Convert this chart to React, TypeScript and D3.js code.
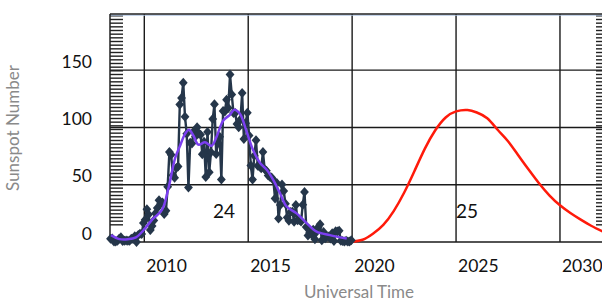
import * as d3 from "d3";

const W = 602;
const H = 301;
const PLOT = { left: 110, right: 603, top: 14, bottom: 242 };

// monthly mean sunspot number, May 2008 .. Dec 2019
const START_YEAR = 2008;
const START_MONTH = 4; // May (0-based)
const monthly: number[] = [
  2.9, 3.1, 0.5, 0.5, 1.1, 2.9, 4.1, 0.8,
  1.2, 1.3, 1.2, 1.2, 2.9, 2.6, 5.0, 0.0, 6.2, 7.1, 6.9, 16.5,
  19.5, 28.5, 24.0, 10.4, 13.9, 18.8, 25.2, 29.6, 36.4, 33.6, 34.4, 24.5,
  27.3, 48.3, 78.6, 76.1, 58.2, 56.1, 64.5, 65.8, 120.1, 125.7, 139.1, 109.3,
  94.4, 47.6, 86.6, 85.9, 96.5, 92.0, 100.1, 94.8, 93.7, 76.5, 87.6, 56.8,
  96.1, 60.9, 78.3, 107.3, 120.2, 76.7, 86.2, 91.8, 54.5, 114.4, 113.9, 124.2,
  117.0, 146.1, 128.7, 112.5, 112.5, 102.9, 100.2, 106.9, 130.0, 90.0, 103.6, 112.9,
  93.0, 66.7, 54.5, 75.3, 88.8, 66.5, 65.8, 64.4, 78.6, 63.6, 62.2, 58.0,
  57.0, 56.4, 54.1, 37.9, 51.5, 20.5, 32.4, 50.2, 44.6, 33.4, 21.4, 18.5,
  26.1, 26.4, 17.7, 32.3, 18.9, 19.2, 17.8, 32.6, 43.7, 13.2, 5.7, 8.2,
  6.8, 10.7, 2.5, 8.9, 13.1, 15.6, 1.6, 8.7, 3.3, 4.9, 4.9, 3.1,
  7.7, 0.8, 9.4, 9.1, 9.9, 1.2, 0.9, 0.5, 1.1, 0.4, 0.5, 1.5,
];

// smoothed sunspot number (purple)
const smoothYears = [
  2008.4, 2008.8, 2009.2, 2009.6, 2009.95, 2010.4, 2010.85, 2011.15, 2011.48,
  2011.72, 2011.95, 2012.15, 2012.36, 2012.6, 2012.92, 2013.24, 2013.48, 2013.8,
  2014.12, 2014.33, 2014.6, 2014.93, 2015.24, 2015.57, 2015.89, 2016.21,
  2016.53, 2016.85, 2017.33, 2017.81, 2018.29, 2018.93, 2019.74,
];
const smoothValues = [
  6, 2.5, 2.3, 4, 10, 20, 28, 46, 73,
  84, 94, 98, 93, 85, 87, 84, 92, 106,
  111, 115.5, 112, 96, 80, 69, 63, 54,
  42.5, 31, 25, 16.5, 9, 6, 3,
];

// predicted cycle 25 (red)
const predYears = [
  2019.95, 2020.5, 2021.0, 2021.5, 2022.0, 2022.5, 2023.0, 2023.5, 2024.0,
  2024.5, 2025.0, 2025.55, 2026.0, 2026.5, 2027.0, 2027.5, 2028.0, 2028.5,
  2029.0, 2029.5, 2030.0, 2030.5, 2031.0, 2031.5, 2032.05,
];
const predValues = [
  0.3, 2, 7.2, 15, 27, 43, 62, 81.5, 97.5,
  108.7, 114, 115.2, 113, 108, 98, 88, 75.5, 63,
  51, 40.5, 32, 25.3, 19.5, 14.2, 9.3,
];

const yearTicks = [2010, 2015, 2020, 2025, 2030];
const valueTicks = [0, 50, 100, 150];
const cycleLabels = [
  { label: "24", year: 2013.3 },
  { label: "25", year: 2025.0 },
];

const FONT = "Lato, 'Open Sans', sans-serif";

type Pt = { t: number; v: number };

export default function App() {
  const x = d3.scaleLinear().domain([2008.35, 2032.07]).range([PLOT.left, PLOT.right]);
  const y = d3.scaleLinear().domain([0, 199]).range([PLOT.bottom, PLOT.top]);

  const obs: Pt[] = monthly.map((v, i) => ({
    t: START_YEAR + (START_MONTH + i + 0.5) / 12,
    v,
  }));
  const smooth: Pt[] = smoothYears.map((t, i) => ({ t, v: smoothValues[i] }));
  const pred: Pt[] = predYears.map((t, i) => ({ t, v: predValues[i] }));

  const obsLine = d3.line<Pt>().x((d) => x(d.t)).y((d) => y(d.v));
  const smoothLine = d3
    .line<Pt>()
    .x((d) => x(d.t))
    .y((d) => y(d.v))
    .curve(d3.curveCatmullRom.alpha(0.5));
  const predLine = d3
    .line<Pt>()
    .x((d) => x(d.t))
    .y((d) => y(d.v))
    .curve(d3.curveNatural);

  const minor = d3.range(15, 198, 3.2);
  const diamond = "M0,-5L4.4,0L0,5L-4.4,0Z";

  return (
    <svg
      width={W}
      height={H}
      style={{ position: "absolute", left: 0, top: 0, background: "#fff" }}
    >
      {/* minor ticks, left and right */}
      <g stroke="#222" strokeWidth={1.4}>
        {minor.map((m) => (
          <g key={m}>
            <line x1={PLOT.left} x2={PLOT.left + 13} y1={y(m)} y2={y(m)} />
            <line x1={596} x2={PLOT.right} y1={y(m)} y2={y(m)} />
          </g>
        ))}
      </g>

      {/* grid */}
      <g stroke="#1a1a1a" strokeWidth={1.4}>
        {valueTicks.map((v) => (
          <line key={v} x1={PLOT.left} x2={PLOT.right} y1={y(v)} y2={y(v)} />
        ))}
        {yearTicks.map((t) => (
          <line key={t} x1={x(t)} x2={x(t)} y1={PLOT.top} y2={PLOT.bottom} />
        ))}
      </g>
      <line x1={PLOT.left} x2={PLOT.right} y1={PLOT.top + 1.2} y2={PLOT.top + 1.2} stroke="#a9bfe0" strokeWidth={1} />
      <line x1={PLOT.left} x2={PLOT.right} y1={PLOT.top} y2={PLOT.top} stroke="#222" strokeWidth={1.5} />
      <line x1={PLOT.left} x2={PLOT.left} y1={PLOT.top} y2={PLOT.bottom} stroke="#222" strokeWidth={1.5} />

      {/* tick labels */}
      <g fontFamily={FONT} fontSize={17.5} fill="#111">
        {valueTicks.map((v) => (
          <text key={v} x={92} y={y(v) - 2.5} textAnchor="end">
            {v}
          </text>
        ))}
        {yearTicks.map((t) => (
          <text key={t} x={x(t) + 2} y={272}>
            {t}
          </text>
        ))}
      </g>

      {/* cycle labels */}
      <g fontFamily={FONT} fontSize={19} fill="#111">
        {cycleLabels.map((c) => (
          <text key={c.label} x={x(c.year)} y={218}>
            {c.label}
          </text>
        ))}
      </g>

      {/* axis titles */}
      <text
        x={359}
        y={298}
        textAnchor="middle"
        fontFamily={FONT}
        fontSize={17}
        fill="#8a8a8a"
      >
        Universal Time
      </text>
      <text
        transform={`translate(19,128) rotate(-90)`}
        textAnchor="middle"
        fontFamily={FONT}
        fontSize={17}
        fill="#8a8a8a"
      >
        Sunspot Number
      </text>

      {/* predicted */}
      <path d={predLine(pred) ?? ""} fill="none" stroke="#ff1a0a" strokeWidth={2.5} />

      {/* observed */}
      <path d={obsLine(obs) ?? ""} fill="none" stroke="#25364a" strokeWidth={2.4} />
      <g fill="#25364a">
        {obs.map((d, i) => (
          <path key={i} d={diamond} transform={`translate(${x(d.t)},${y(d.v)})`} />
        ))}
      </g>

      {/* smoothed */}
      <path d={smoothLine(smooth) ?? ""} fill="none" stroke="#7b3ff0" strokeWidth={2.5} />
    </svg>
  );
}
